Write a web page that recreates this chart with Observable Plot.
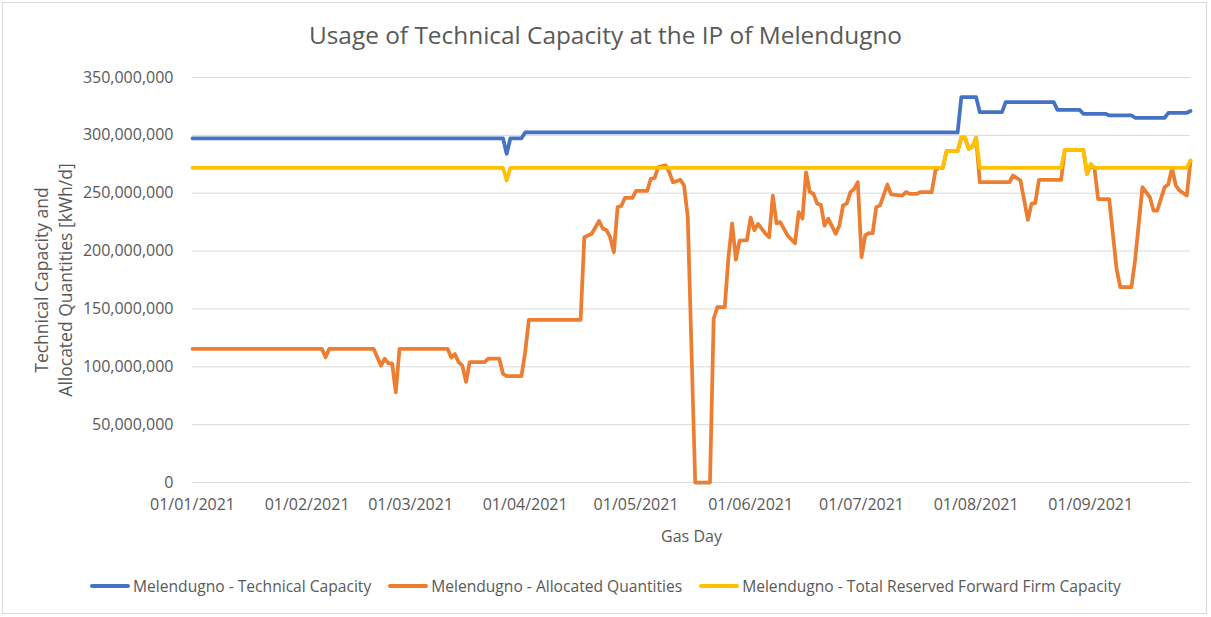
<!DOCTYPE html>
<html>
<head>
<meta charset="utf-8">
<script src="https://cdn.jsdelivr.net/npm/d3@7"></script>
<script src="https://cdn.jsdelivr.net/npm/@observablehq/plot@0.6"></script>
<style>
  html, body { margin: 0; padding: 0; background: #fff; }
  #wrap { position: relative; width: 1211px; height: 617px; overflow: hidden; font-family: "Open Sans", sans-serif; color: #595959; }
  #border { position: absolute; left: 2px; top: 2px; width: 1205px; height: 612px; border: 1px solid #d9d9d9; box-sizing: border-box; pointer-events: none; }
  #title { height: 35px; padding-top: 20px; line-height: 30px; font-size: 24.4px; text-align: center; white-space: nowrap; }
  #chart { height: 500px; }
  #legend { display: flex; justify-content: center; align-items: center; gap: 17px; height: 30px; margin-top: 16px; font-size: 15.6px; white-space: nowrap; }
  .item { display: flex; align-items: center; }
  .sw { width: 40px; height: 4px; margin-right: 3px; border-radius: 2px; }
</style>
</head>
<body>
<div id="wrap">
  <div id="border"></div>
  <div id="title">Usage of Technical Capacity at the IP of Melendugno</div>
  <div id="chart"></div>
  <div id="legend"></div>
</div>
<script>
// ---- Data (kWh/d) ----
const seriesNames = [
  "Melendugno - Technical Capacity",
  "Melendugno - Allocated Quantities",
  "Melendugno - Total Reserved Forward Firm Capacity"
];
const seriesColors = ["#4472C4", "#ED7D31", "#FFC000"];

const technicalCapacity = [
  ["2021-01-01", 297.5e6], ["2021-03-26", 297.5e6], ["2021-03-27", 284e6], ["2021-03-28", 297.5e6],
  ["2021-03-31", 297.5e6], ["2021-04-01", 302.5e6], ["2021-07-27", 302.5e6], ["2021-07-28", 333e6],
  ["2021-08-01", 333e6], ["2021-08-02", 320e6], ["2021-08-08", 320e6], ["2021-08-09", 328.7e6],
  ["2021-08-22", 328.7e6], ["2021-08-23", 322e6], ["2021-08-29", 322e6], ["2021-08-30", 318.6e6],
  ["2021-09-05", 318.6e6], ["2021-09-06", 317.2e6], ["2021-09-12", 317.2e6], ["2021-09-13", 315.2e6],
  ["2021-09-21", 315.2e6], ["2021-09-22", 319.5e6], ["2021-09-27", 319.5e6], ["2021-09-28", 321e6]
];

const allocatedQuantities = [
  ["2021-01-01", 115.5e6], ["2021-02-05", 115.5e6], ["2021-02-06", 108.3e6], ["2021-02-07", 115.5e6],
  ["2021-02-19", 115.5e6], ["2021-02-21", 101e6], ["2021-02-22", 107e6], ["2021-02-23", 103e6],
  ["2021-02-24", 103e6], ["2021-02-25", 78e6], ["2021-02-26", 115.5e6], ["2021-03-11", 115.5e6],
  ["2021-03-12", 108e6], ["2021-03-13", 111e6], ["2021-03-14", 104e6], ["2021-03-15", 101e6],
  ["2021-03-16", 87e6], ["2021-03-17", 104e6], ["2021-03-21", 104e6], ["2021-03-22", 107e6],
  ["2021-03-25", 107e6], ["2021-03-26", 94e6], ["2021-03-27", 92e6], ["2021-03-31", 92e6],
  ["2021-04-01", 112.6e6], ["2021-04-02", 140.6e6], ["2021-04-16", 140.6e6], ["2021-04-17", 212e6],
  ["2021-04-19", 215e6], ["2021-04-21", 226e6], ["2021-04-22", 219.5e6], ["2021-04-23", 218e6],
  ["2021-04-24", 212e6], ["2021-04-25", 199e6], ["2021-04-26", 238e6], ["2021-04-27", 239e6],
  ["2021-04-28", 246e6], ["2021-04-30", 246e6], ["2021-05-01", 252e6], ["2021-05-04", 252e6],
  ["2021-05-05", 262.5e6], ["2021-05-06", 263e6], ["2021-05-07", 272.5e6], ["2021-05-09", 274e6],
  ["2021-05-10", 268e6], ["2021-05-11", 259.5e6], ["2021-05-13", 261.5e6], ["2021-05-14", 256.7e6],
  ["2021-05-15", 229e6], ["2021-05-17", 0], ["2021-05-21", 0], ["2021-05-22", 141.5e6],
  ["2021-05-23", 151.5e6], ["2021-05-25", 151.5e6], ["2021-05-26", 194.7e6], ["2021-05-27", 224e6],
  ["2021-05-28", 192.5e6], ["2021-05-29", 209e6], ["2021-05-31", 209.5e6], ["2021-06-01", 229e6],
  ["2021-06-02", 218e6], ["2021-06-03", 223.5e6], ["2021-06-05", 215e6], ["2021-06-06", 212e6],
  ["2021-06-07", 248e6], ["2021-06-08", 224e6], ["2021-06-09", 225e6], ["2021-06-11", 213.5e6],
  ["2021-06-13", 206.8e6], ["2021-06-14", 233.6e6], ["2021-06-15", 228e6], ["2021-06-16", 268e6],
  ["2021-06-17", 251e6], ["2021-06-18", 249.5e6], ["2021-06-19", 241e6], ["2021-06-20", 240e6],
  ["2021-06-21", 222e6], ["2021-06-22", 228e6], ["2021-06-24", 215e6], ["2021-06-25", 222e6],
  ["2021-06-26", 239.5e6], ["2021-06-27", 241e6], ["2021-06-28", 251e6], ["2021-06-29", 253.8e6],
  ["2021-06-30", 259.5e6], ["2021-07-01", 194.7e6], ["2021-07-02", 213.5e6], ["2021-07-03", 215.5e6],
  ["2021-07-04", 215.5e6], ["2021-07-05", 238e6], ["2021-07-06", 239.5e6], ["2021-07-08", 257.5e6],
  ["2021-07-09", 249e6], ["2021-07-12", 248e6], ["2021-07-13", 251e6], ["2021-07-14", 249.5e6],
  ["2021-07-16", 249.5e6], ["2021-07-17", 251e6], ["2021-07-20", 251e6], ["2021-07-21", 269.6e6],
  ["2021-07-22", 272e6], ["2021-07-23", 272e6], ["2021-07-24", 286.4e6], ["2021-07-27", 286.4e6],
  ["2021-07-28", 298e6], ["2021-07-29", 298e6], ["2021-07-30", 288.4e6], ["2021-07-31", 290e6],
  ["2021-08-01", 298e6], ["2021-08-02", 259.5e6], ["2021-08-10", 259.5e6], ["2021-08-11", 265.3e6],
  ["2021-08-13", 261e6], ["2021-08-15", 227e6], ["2021-08-16", 241e6], ["2021-08-17", 241.5e6],
  ["2021-08-18", 261.6e6], ["2021-08-24", 261.6e6], ["2021-08-25", 287.5e6], ["2021-08-30", 287.5e6],
  ["2021-08-31", 266.8e6], ["2021-09-01", 273.5e6], ["2021-09-02", 272e6], ["2021-09-03", 245e6],
  ["2021-09-06", 245e6], ["2021-09-08", 184.7e6], ["2021-09-09", 168.8e6], ["2021-09-12", 168.8e6],
  ["2021-09-13", 191.9e6], ["2021-09-15", 255.3e6], ["2021-09-17", 246.6e6], ["2021-09-18", 235e6],
  ["2021-09-19", 235e6], ["2021-09-21", 255.3e6], ["2021-09-22", 257.6e6], ["2021-09-23", 272e6],
  ["2021-09-24", 256.7e6], ["2021-09-25", 252.4e6], ["2021-09-27", 248e6], ["2021-09-28", 278e6]
];

const reservedFirmCapacity = [
  ["2021-01-01", 272e6], ["2021-03-26", 272e6], ["2021-03-27", 261e6], ["2021-03-28", 272e6],
  ["2021-07-23", 272e6], ["2021-07-24", 286.4e6], ["2021-07-27", 286.4e6], ["2021-07-28", 298e6],
  ["2021-07-29", 298e6], ["2021-07-30", 288.4e6], ["2021-07-31", 290e6], ["2021-08-01", 298e6],
  ["2021-08-02", 272e6], ["2021-08-24", 272e6], ["2021-08-25", 287.5e6], ["2021-08-30", 287.5e6],
  ["2021-08-31", 266.8e6], ["2021-09-01", 275.4e6], ["2021-09-02", 272e6], ["2021-09-27", 272e6],
  ["2021-09-28", 278.3e6]
];

const yTicks = [0, 50e6, 100e6, 150e6, 200e6, 250e6, 300e6, 350e6];
const xTickDates = ["2021-01-01", "2021-02-01", "2021-03-01", "2021-04-01", "2021-05-01",
                    "2021-06-01", "2021-07-01", "2021-08-01", "2021-09-01"];
const xDomain = ["2021-01-01", "2021-09-28"];
const yTitle = "Technical Capacity and\nAllocated Quantities [kWh/d]";
const xTitle = "Gas Day";

// ---- Build ----
const toRows = (arr) => arr.map(([d, v]) => ({date: new Date(d + "T00:00:00Z"), value: v}));
const allSeries = [technicalCapacity, allocatedQuantities, reservedFirmCapacity].map(toRows);

const chart = Plot.plot({
  width: 1211,
  height: 500,
  marginTop: 22,
  marginBottom: 73,
  marginLeft: 192,
  marginRight: 21,
  style: {fontFamily: "'Open Sans', sans-serif", fontSize: "16px", color: "#595959", background: "transparent"},
  x: {type: "utc", domain: xDomain.map(d => new Date(d + "T00:00:00Z"))},
  y: {domain: [0, 350e6]},
  marks: [
    Plot.ruleY(yTicks, {stroke: "#d9d9d9", strokeWidth: 1}),
    Plot.axisY({ticks: yTicks, tickFormat: d3.format(","), tickSize: 0, tickPadding: 19, label: null, fill: "#595959", fontSize: 16}),
    Plot.axisX({ticks: xTickDates.map(d => new Date(d + "T00:00:00Z")), tickFormat: d3.utcFormat("%d/%m/%Y"),
                tickSize: 0, tickPadding: 16, label: null, fill: "#595959", fontSize: 16}),
    Plot.text([yTitle], {frameAnchor: "left", textAnchor: "middle", dx: -140, rotate: -90, lineHeight: 1.37, fill: "#595959", fontSize: 17.5}),
    Plot.text([xTitle], {frameAnchor: "bottom", dy: 59, fill: "#595959", fontSize: 16}),
    ...allSeries.map((rows, i) => Plot.line(rows, {
      x: "date", y: "value", stroke: seriesColors[i], strokeWidth: 3.75,
      strokeLinejoin: "round", strokeLinecap: "round"
    }))
  ]
});
document.getElementById("chart").appendChild(chart);

// ---- Legend ----
const legend = document.getElementById("legend");
seriesNames.forEach((name, i) => {
  const item = document.createElement("div");
  item.className = "item";
  const sw = document.createElement("div");
  sw.className = "sw";
  sw.style.background = seriesColors[i];
  const label = document.createElement("span");
  label.textContent = name;
  item.appendChild(sw);
  item.appendChild(label);
  legend.appendChild(item);
});
</script>
</body>
</html>
